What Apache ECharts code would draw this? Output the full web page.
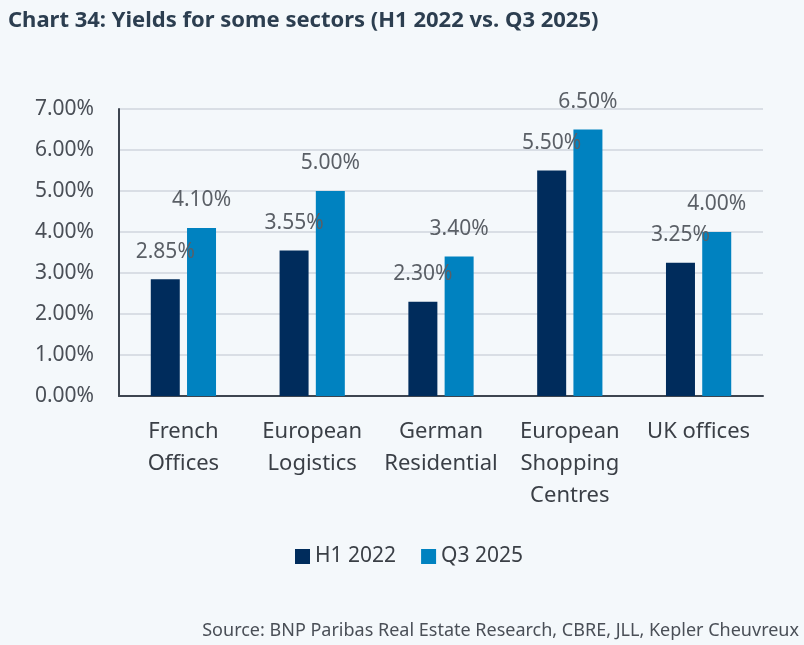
<!DOCTYPE html>
<html>
<head>
<meta charset="utf-8">
<script src="https://cdn.jsdelivr.net/npm/echarts@6/dist/echarts.min.js"></script>
<style>
  html, body { margin: 0; padding: 0; background: #f4f8fb; }
  #chart { width: 804px; height: 645px; }
</style>
</head>
<body>
<div id="chart"></div>
<script>
// Sector names (two/three-line axis labels)
const categories = ['French\nOffices', 'European\nLogistics', 'German\nResidential', 'European\nShopping\nCentres', 'UK offices'];
// Prime yields, in percent
const h1_2022 = [2.85, 3.55, 2.30, 5.50, 3.25];
const q3_2025 = [4.10, 5.00, 3.40, 6.50, 4.00];
const seriesNames = ['H1 2022', 'Q3 2025'];
const yTicks = [0, 1, 2, 3, 4, 5, 6, 7];

const chart = echarts.init(document.getElementById('chart'), null, { renderer: 'canvas' });
const font = '"Noto Sans", "Open Sans", sans-serif';

const labelStyle = {
  show: true,
  position: 'top',
  distance: 17,
  fontSize: 21,
  color: '#5a5f66',
  fontFamily: font,
  formatter: p => p.value.toFixed(2) + '%'
};

chart.setOption({
  backgroundColor: '#f4f8fb',
  animation: false,
  title: [{
    text: 'Chart 34: Yields for some sectors (H1 2022 vs. Q3 2025)',
    left: 3, top: 5,
    textStyle: { fontSize: 22, fontWeight: 'bold', color: '#2c3e50', fontFamily: font }
  }, {
    text: 'Source: BNP Paribas Real Estate Research, CBRE, JLL, Kepler Cheuvreux',
    right: 0, top: 617,
    textStyle: { fontSize: 18, fontWeight: 'normal', color: '#4a4f57', fontFamily: font }
  }],
  legend: {
    data: seriesNames,
    left: 290, top: 541,
    itemWidth: 15, itemHeight: 15, itemGap: 25,
    icon: 'rect',
    textStyle: { fontSize: 21, color: '#3a3f46', fontFamily: font }
  },
  grid: { left: 119, right: 41, top: 109, bottom: 249, containLabel: false },
  xAxis: {
    type: 'category',
    data: categories,
    axisLine: { lineStyle: { color: '#3d4550', width: 2 } },
    axisTick: { show: false },
    axisLabel: {
      fontSize: 22, color: '#3a3f46', fontFamily: font,
      lineHeight: 32, margin: 20, interval: 0
    }
  },
  yAxis: {
    type: 'value',
    min: yTicks[0], max: yTicks[yTicks.length - 1], interval: 1,
    axisLine: { show: true, lineStyle: { color: '#3d4550', width: 2 } },
    axisTick: { show: false },
    splitLine: { lineStyle: { color: '#d9dee5', width: 2 } },
    axisLabel: {
      fontSize: 21, color: '#4a4f57', fontFamily: font, margin: 25,
      formatter: v => v.toFixed(2) + '%'
    }
  },
  series: [{
    name: seriesNames[0], type: 'bar', data: h1_2022,
    barWidth: 29, barGap: '25%',
    itemStyle: { color: '#002c5c' },
    label: labelStyle
  }, {
    name: seriesNames[1], type: 'bar', data: q3_2025,
    barWidth: 29,
    itemStyle: { color: '#0082c0' },
    label: labelStyle
  }]
});
</script>
</body>
</html>
